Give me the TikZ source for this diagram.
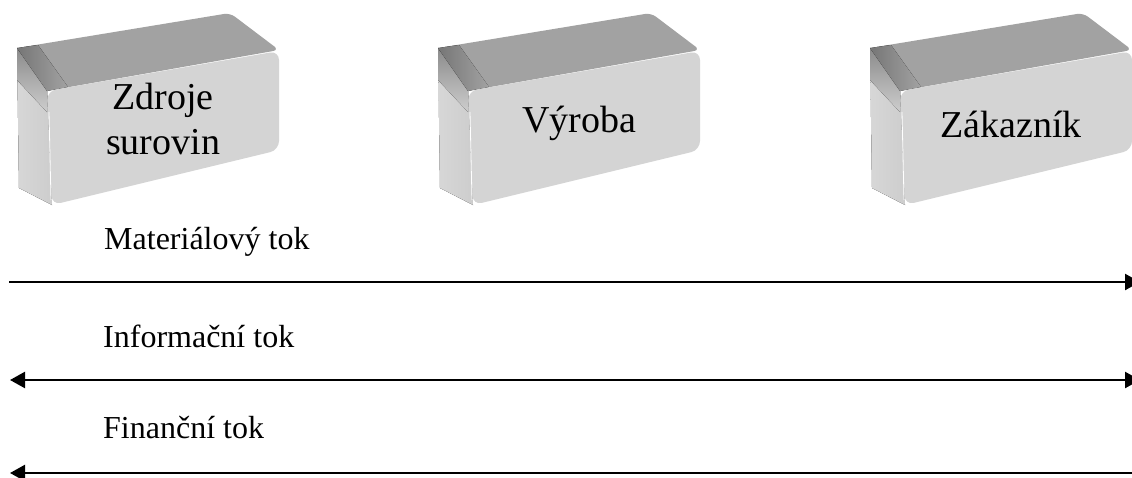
\documentclass[tikz,border=0pt]{standalone}
\usepackage{fontspec}
\setmainfont{Liberation Serif}
\usetikzlibrary{arrows.meta}
\definecolor{frontgray}{HTML}{D4D4D4}
\definecolor{topgray}{HTML}{A2A2A2}
\definecolor{edgegray}{HTML}{767676}
\definecolor{sidegray}{HTML}{CDCDCD}
\tikzset{
  frontface/.style={fill=frontgray, rounded corners=9pt},
  topface/.style={fill=topgray, rounded corners=6pt},
  sideface/.style={left color=sidegray!80!white, right color=sidegray},
  sidetop/.style={top color=edgegray!85, bottom color=sidegray},
  edgeband/.style={left color=edgegray, right color=topgray},
  boxtext/.style={font=\fontsize{38}{45}\selectfont, align=center, inner sep=0pt},
  flowlabel/.style={font=\fontsize{32}{38}\selectfont, anchor=base west, inner sep=0pt},
  flow/.style={line width=2.4pt, draw=black},
  flowtip/.tip={Triangle[length=15pt,width=16pt]}
}
\newcommand{\stonebox}[1]{%
  \begin{scope}[xshift=#1]
    \fill[sideface] (17,48) -- (47,90) -- (52,205) -- (19,188) -- cycle;
    \fill[sidetop] (17,48) -- (47,90) -- (47,112) -- (17,80) -- cycle;
    \fill[topface] (17,48) -- (230,13) -- (279,50) -- (47,91) -- cycle;
    \fill[edgeband] (17,48) -- (38,45) -- (68,87) -- (47,91) -- cycle;
    \fill[frontface] (47,91) -- (279,51) -- (279,150) -- (52,205) -- cycle;
    \draw[white, line width=0.8pt] (49,112) -- (51,200);
  \end{scope}}
\begin{document}
\begin{tikzpicture}[x=1pt,y=-1pt]
  \clip (0,0) rectangle (1132,477);
  \fill[white] (0,0) rectangle (1132,477);
  % boxes
  \stonebox{0pt}
  \stonebox{421pt}
  \stonebox{853pt}
  \node[boxtext] (zdroje) at (163,119) {Zdroje\\surovin};
  \node[boxtext, anchor=base] (vyroba) at (579,132) {Výroba};
  \node[boxtext, anchor=base] (zakaznik) at (1011,137) {Zákazník};
  % flow labels
  \node[flowlabel] (mat) at (104,249) {Materiálový tok};
  \node[flowlabel] (inf) at (103,347) {Informační tok};
  \node[flowlabel] (fin) at (103,438) {Finanční tok};
  % flow lines
  \coordinate (m1) at (9,282);
  \coordinate (m2) at (1140,282);
  \coordinate (i1) at (10,380);
  \coordinate (i2) at (1140,380);
  \coordinate (f1) at (1133,473);
  \coordinate (f2) at (10,473);
  \draw[flow, -flowtip] (m1) -- (m2);
  \draw[flow, flowtip-flowtip] (i1) -- (i2);
  \draw[flow, -flowtip] (f1) -- (f2);
\end{tikzpicture}
\end{document}
